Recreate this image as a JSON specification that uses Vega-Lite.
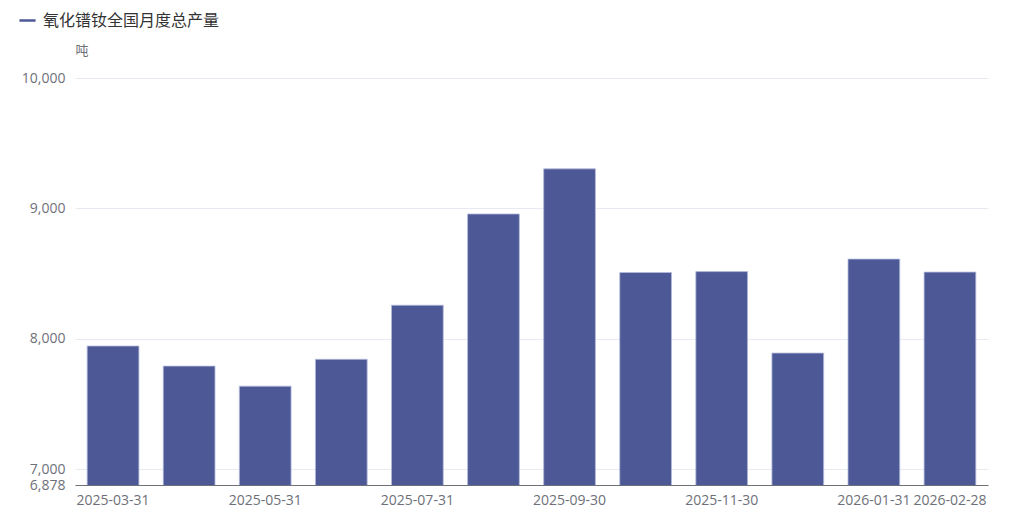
{
  "$schema": "https://vega.github.io/schema/vega-lite/v6.json",
  "width": 913,
  "height": 407,
  "autosize": {"type": "none"},
  "padding": {"left": 75, "top": 78, "right": 36, "bottom": 26},
  "background": "#ffffff",
  "config": {
    "font": "Noto Sans CJK SC",
    "view": {"stroke": null}
  },
  "data": {
    "values": [
      {"date": "2025-03-31", "value": 7944, "series": "氧化镨钕全国月度总产量"},
      {"date": "2025-04-30", "value": 7790, "series": "氧化镨钕全国月度总产量"},
      {"date": "2025-05-31", "value": 7636, "series": "氧化镨钕全国月度总产量"},
      {"date": "2025-06-30", "value": 7842, "series": "氧化镨钕全国月度总产量"},
      {"date": "2025-07-31", "value": 8257, "series": "氧化镨钕全国月度总产量"},
      {"date": "2025-08-31", "value": 8957, "series": "氧化镨钕全国月度总产量"},
      {"date": "2025-09-30", "value": 9303, "series": "氧化镨钕全国月度总产量"},
      {"date": "2025-10-31", "value": 8508, "series": "氧化镨钕全国月度总产量"},
      {"date": "2025-11-30", "value": 8515, "series": "氧化镨钕全国月度总产量"},
      {"date": "2025-12-31", "value": 7890, "series": "氧化镨钕全国月度总产量"},
      {"date": "2026-01-31", "value": 8611, "series": "氧化镨钕全国月度总产量"},
      {"date": "2026-02-28", "value": 8511, "series": "氧化镨钕全国月度总产量"}
    ]
  },
  "mark": {"type": "bar", "stroke": "#b4badc", "strokeWidth": 0.8, "clip": true},
  "encoding": {
    "x": {
      "field": "date",
      "type": "ordinal",
      "sort": null,
      "scale": {"paddingInner": 0.32, "paddingOuter": 0.16},
      "axis": {
        "title": null,
        "values": ["2025-03-31", "2025-05-31", "2025-07-31", "2025-09-30", "2025-11-30", "2026-01-31", "2026-02-28"],
        "labelAngle": 0,
        "labelFontSize": 14,
        "labelColor": "#6e7079",
        "labelPadding": 8,
        "ticks": false,
        "domainColor": "#6e7079",
        "domainWidth": 1,
        "grid": false,
        "labelFont": "Open Sans"
      }
    },
    "y": {
      "field": "value",
      "type": "quantitative",
      "scale": {"domain": [6878, 10000], "nice": false, "zero": false},
      "axis": {
        "values": [6878, 7000, 8000, 9000, 10000],
        "format": ",d",
        "title": "吨",
        "titleAngle": 0,
        "titleAlign": "left",
        "titleBaseline": "middle",
        "titleX": 0,
        "titleY": -28,
        "titleFontSize": 13,
        "titleFontWeight": "normal",
        "titleColor": "#6e7079",
        "labelFontSize": 14,
        "labelColor": "#6e7079",
        "labelPadding": 10,
        "labelFont": "Open Sans",
        "ticks": false,
        "domain": false,
        "grid": true,
        "gridColor": "#e8e9f2",
        "gridWidth": 1
      }
    },
    "color": {
      "field": "series",
      "type": "nominal",
      "scale": {"range": ["#4d5996"]},
      "legend": {
        "title": null,
        "orient": "none",
        "legendX": -57,
        "legendY": -67,
        "symbolType": "M-1,0L1,0",
        "symbolStrokeWidth": 2.5,
        "symbolStrokeColor": "#4d5996",
        "symbolSize": 260,
        "labelFontSize": 16,
        "labelLimit": 400,
        "labelColor": "#333333",
        "labelOffset": 6
      }
    }
  }
}
